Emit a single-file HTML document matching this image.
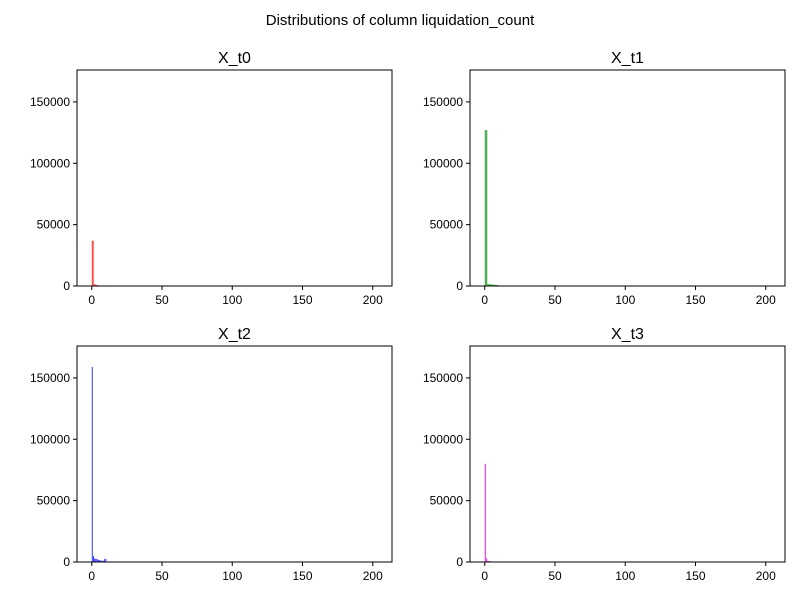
<!DOCTYPE html>
<html><head><meta charset="utf-8"><style>
body{margin:0;background:#fff;font-family:"Liberation Sans","DejaVu Sans",sans-serif}
</style></head><body>
<svg id="c" width="800" height="600" xmlns="http://www.w3.org/2000/svg">
<text x="400" y="25" text-anchor="middle" font-size="15">Distributions of column liquidation_count</text>
</svg>
<script>
const titles = ["X_t0","X_t1","X_t2","X_t3"];
const colors = ["#ff4d4d","#4caf50","#4d4dff","#e04de0"];
const binWidths = [1.4, 1.8, 0.8, 0.9];
const counts0 = [37000, 1400, 900, 500, 200];
const counts1 = [127000, 1500, 1300, 1100, 900, 500];
const counts2 = [159000, 5000, 3000, 2500, 2500, 2000, 1500, 1500, 1000, 1000, 1000, 2500, 2500];
const counts3 = [80000, 3000, 800, 800, 600];
const xTicks = [0, 50, 100, 150, 200];
const yTicks = [0, 50000, 100000, 150000];
const allCounts = [counts0, counts1, counts2, counts3];
const panels = [{l:77,t:70},{l:470,t:70},{l:77,t:346},{l:470,t:346}];
const W=315,H=216,xmin=-10.5,xmax=213.7,ymax=176000;
const svg=document.getElementById('c');
const NS="http://www.w3.org/2000/svg";
function mk(tag,attrs,parent){const e=document.createElementNS(NS,tag);for(const k in attrs)e.setAttribute(k,attrs[k]);(parent||svg).appendChild(e);return e;}
panels.forEach((p,i)=>{
  const g=mk('g',{});
  
  
  const sx=v=>p.l+(v-xmin)/(xmax-xmin)*W;
  const sy=v=>p.t+H-v/ymax*H;
  allCounts[i].forEach((c,j)=>{
    const x0=sx(j*binWidths[i]),x1=sx((j+1)*binWidths[i]);
    const r=mk('rect',{x:x0,y:sy(c),width:Math.max(x1-x0,0.8),height:sy(0)-sy(c),fill:colors[i]},g);
    
    
  });
  const fr=mk('rect',{x:p.l,y:p.t,width:W,height:H,fill:'none',stroke:'#000','stroke-width':1},g);
  
  
  xTicks.forEach(v=>{
    const x=sx(v);
    mk('line',{x1:x,x2:x,y1:p.t+H,y2:p.t+H+4,stroke:'#000'},g);
    const t=mk('text',{x:x,y:p.t+H+18,'text-anchor':'middle','font-size':12},g);
    t.textContent=v;
    
    
  });
  yTicks.forEach(v=>{
    const y=sy(v);
    mk('line',{x1:p.l-4,x2:p.l,y1:y,y2:y,stroke:'#000'},g);
    const t=mk('text',{x:p.l-7,y:y+4,'text-anchor':'end','font-size':12},g);
    t.textContent=v;
    
    
  });
  const tt=mk('text',{x:p.l+W/2,y:p.t-7,'text-anchor':'middle','font-size':16},g);
  tt.textContent=titles[i];
  
  
});
</script>
</body></html>
